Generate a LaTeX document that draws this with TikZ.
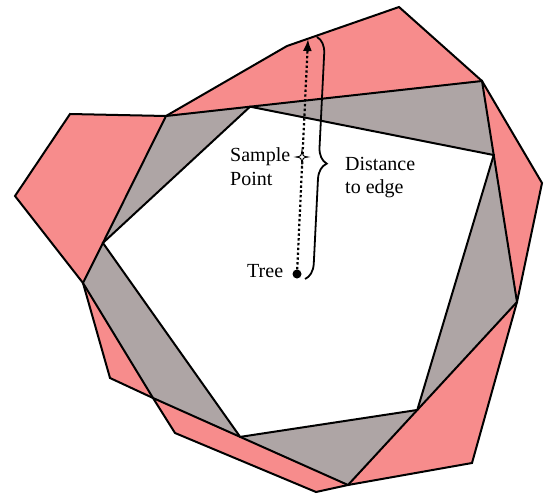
\documentclass[tikz,border=0pt]{standalone}
\usepackage{fontspec}
\setmainfont{Liberation Serif}
\usetikzlibrary{calc,decorations.pathreplacing,arrows.meta}
\definecolor{pinkfill}{RGB}{247,140,140}
\definecolor{grayfill}{RGB}{174,165,165}
\begin{document}
\begin{tikzpicture}[x=1pt,y=-1pt,
  region/.style={draw=black,line width=2pt,line join=miter},
  lbl/.style={font=\fontsize{20}{24}\selectfont,inner sep=0pt,anchor=base west}]
\useasboundingbox (0,0) rectangle (544,495);
% gray hexagon corners
\coordinate (G1) at (166,116);
\coordinate (G2) at (482,81);
\coordinate (G3) at (517,302);
\coordinate (G4) at (348,485);
\coordinate (G5) at (153,398);
\coordinate (G6) at (83,283);
% pink outer polygon
\coordinate (P1) at (70,114);
\coordinate (P3) at (287,46);
\coordinate (P4) at (399,7);
\coordinate (P6) at (542,183);
\coordinate (P8) at (472,463);
\coordinate (P10) at (316,492);
\coordinate (P11) at (175,433);
\coordinate (P13) at (110,378);
\coordinate (P15) at (15,196);
% white pentagon, corners on the gray edges
\coordinate (W1) at ($(G1)!0.266!(G2)$);
\coordinate (W2) at ($(G2)!0.335!(G3)$);
\coordinate (W3) at ($(G3)!0.59!(G4)$);
\coordinate (W4) at ($(G5)!0.447!(G4)$);
\coordinate (W5) at ($(G6)!0.24!(G1)$);
\draw[region,fill=pinkfill] (P1) -- (G1) -- (P3) -- (P4) -- (G2) -- (P6) -- (G3) -- (P8) -- (G4) -- (P10) -- (P11) -- (G5) -- (P13) -- (G6) -- (P15) -- cycle;
\draw[region,fill=grayfill] (G1) -- (G2) -- (G3) -- (G4) -- (G5) -- (G6) -- cycle;
\draw[region,fill=white] (W1) -- (W2) -- (W3) -- (W4) -- (W5) -- cycle;
% tree, sample point, distance
\node[circle,fill=black,inner sep=0pt,minimum width=8pt,minimum height=9pt] (tree) at (297,274) {};
\coordinate (edgept) at (308,39);
\draw[line width=2.2pt,dash pattern=on 2.4pt off 2.4pt,-{Latex[length=12pt,width=9pt]}] (tree) -- (edgept);
\coordinate (sample) at (302,157);
\draw[line width=0.9pt,fill=white,shift={(sample)}]
  (0,-7) .. controls (0.8,-0.8) .. (6,0) .. controls (0.8,0.8) .. (0,7)
  .. controls (-0.8,0.8) .. (-6,0) .. controls (-0.8,-0.8) .. cycle;
\coordinate (bracetop) at (317,37);
\coordinate (bracebot) at (305,279);
\draw[line width=1.8pt,decorate,decoration={brace,amplitude=16pt,aspect=0.52}] (bracetop) -- (bracebot);
\node[lbl] (samplelbl) at (230,161) {\begin{tabular}[t]{@{}l@{}}Sample\\Point\end{tabular}};
\node[lbl] (distlbl) at (345,170) {\begin{tabular}[t]{@{}l@{}}Distance\\to edge\end{tabular}};
\node[lbl] (treelbl) at (247,277) {Tree};
\end{tikzpicture}
\end{document}
